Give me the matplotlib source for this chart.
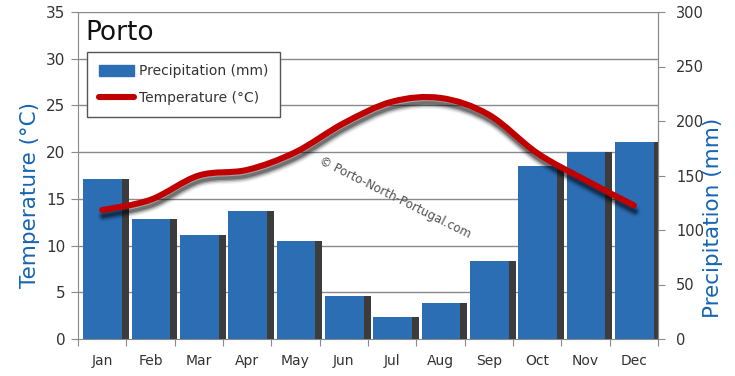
import numpy as np
import matplotlib
matplotlib.use("Agg")
import matplotlib.pyplot as plt
from matplotlib.path import Path
from matplotlib.patches import PathPatch, Patch
from matplotlib.lines import Line2D
import matplotlib.patheffects as pe

months = ["Jan", "Feb", "Mar", "Apr", "May", "Jun", "Jul", "Aug", "Sep", "Oct", "Nov", "Dec"]
precip_mm = [147, 110, 95, 117, 90, 39, 20, 33, 72, 159, 172, 181]
temp_c = [13.8, 14.9, 17.5, 18.1, 20.0, 23.1, 25.4, 25.8, 24.0, 19.9, 17.0, 14.3]
temp_ticks = [0, 5, 10, 15, 20, 25, 30, 35]
precip_ticks = [0, 50, 100, 150, 200, 250, 300]

plt.rcParams['font.family'] = ['DejaVu Sans']

W, H = 735, 376
fig = plt.figure(figsize=(W / 100, H / 100), dpi=100)
L, R, B, T = 78 / W, 658 / W, 1 - 339 / H, 1 - 12 / H
ax = fig.add_axes([L, B, R - L, T - B])
ax2 = ax.twinx()
ax3 = ax.twinx()

x = np.arange(len(months))
grid_c = "#8a8a8a"
tick_c = "#333333"
blue_lbl = "#1565b4"

# left axis (temperature) with grid
ax.set_xlim(-0.5, 11.5)
ax.set_ylim(0, 35)
ax.set_yticks(temp_ticks)
ax.set_yticklabels([str(t) for t in temp_ticks])
for t in temp_ticks[1:]:
    ax.axhline(t, color=grid_c, lw=1.0, zorder=0)
ax.set_xticks(np.arange(-0.5, 12, 1))
ax.set_xticklabels([])
ax.set_xticks(x, minor=True)
ax.set_xticklabels(months, minor=True)
ax.tick_params(axis='x', which='major', length=5, color=grid_c, direction='out')
ax.tick_params(axis='x', which='minor', length=0, pad=11, labelsize=10, labelcolor=tick_c)
ax.tick_params(axis='y', length=5, color=grid_c, labelsize=11, labelcolor=tick_c, pad=4)
ax.spines['top'].set_visible(False)
for s in ['left', 'bottom', 'right']:
    ax.spines[s].set_color(grid_c)
ax.set_ylabel("Temperature (°C)", color=blue_lbl, fontsize=15.5)
ax.yaxis.set_label_coords(-0.066, 0.44)

# right axis (precipitation) bars
ax2.set_ylim(0, 300)
ax2.set_yticks(precip_ticks)
ax2.tick_params(axis='y', length=5, color=grid_c, labelsize=10.5, labelcolor=tick_c, pad=8)
for s in ['top', 'left', 'bottom']:
    ax2.spines[s].set_visible(False)
ax2.spines['right'].set_color(grid_c)
ax2.set_ylabel("Precipitation (mm)", color=blue_lbl, fontsize=15.5)
ax2.yaxis.set_label_coords(1.077, 0.37)
bar_w = 0.80
sh_w = 0.15
x0 = x - 0.393
ax2.bar(x0 + bar_w, precip_mm, width=sh_w, align='edge', color="#3c3c3c", zorder=2)
ax2.bar(x0, precip_mm, width=bar_w, align='edge', color="#2b6eb4", zorder=3,
        edgecolor="#2b6eb4", linewidth=0)

ax2.text(0.546, 0.433, "© Porto-North-Portugal.com", transform=ax2.transAxes,
         rotation=-26.5, fontsize=8.6, color="#505050", ha='center', va='center',
         rotation_mode='anchor')

# temperature smooth line on ax3
ax3.set_ylim(0, 35)
ax3.axis('off')
pts = np.column_stack([x, temp_c]).astype(float)
ext = np.vstack([pts[0], pts, pts[-1]])
verts = [tuple(pts[0])]
codes = [Path.MOVETO]
for i in range(len(pts) - 1):
    p0, p1, p2, p3 = ext[i], ext[i + 1], ext[i + 2], ext[i + 3]
    c1 = p1 + (p2 - p0) / 6.0
    c2 = p2 - (p3 - p1) / 6.0
    verts += [tuple(c1), tuple(c2), tuple(p2)]
    codes += [Path.CURVE4] * 3
path = Path(verts, codes)
off = (0.8, -4.2)
shadow_fx = [
    pe.Stroke(offset=off, linewidth=8.5, foreground="#000000", alpha=0.06),
    pe.Stroke(offset=off, linewidth=6.5, foreground="#000000", alpha=0.12),
    pe.Stroke(offset=off, linewidth=4.5, foreground="#000000", alpha=0.22),
    pe.Stroke(offset=off, linewidth=2.5, foreground="#000000", alpha=0.3),
    pe.Normal(),
]
line = PathPatch(path, fill=False, edgecolor="#c00000", linewidth=4.4,
                 capstyle='round', joinstyle='round', zorder=5)
line.set_path_effects(shadow_fx)
ax3.add_patch(line)

# title
ax3.text(0.012, 0.935, "Porto", transform=ax3.transAxes, fontsize=19,
         color="#111111", ha='left', va='center')

# legend
handles = [Patch(facecolor="#2b6eb4", edgecolor="#2b6eb4"),
           Line2D([0], [0], color="#c00000", lw=4.4, solid_capstyle='round')]
leg = ax3.legend(handles, ["Precipitation (mm)", "Temperature (°C)"],
                 loc='upper left', bbox_to_anchor=(0.0155, 0.877),
                 frameon=True, fancybox=False, fontsize=10,
                 handlelength=2.5, handleheight=0.8, labelspacing=0.95,
                 borderpad=0.85, handletextpad=0.4, borderaxespad=0)
leg.get_frame().set_edgecolor("#555555")
leg.get_frame().set_linewidth(1.0)
leg.get_frame().set_alpha(1)
for t in leg.get_texts():
    t.set_color("#333333")

fig.savefig("out.png", dpi=100)
